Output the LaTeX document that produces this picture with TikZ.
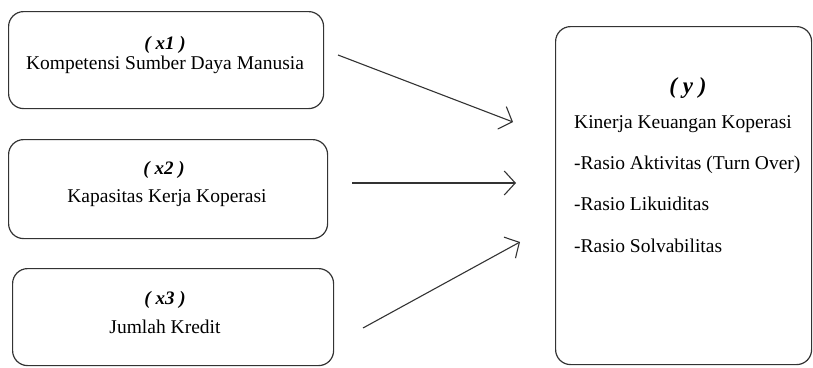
\documentclass[tikz,border=0pt]{standalone}
\usepackage{fontspec}
\setmainfont{Liberation Serif}
\usetikzlibrary{arrows.meta}
\begin{document}
\begin{tikzpicture}[x=1pt,y=-1pt,
  box/.style={draw=black!80, line width=1.2pt, rounded corners=15pt, anchor=north west, inner sep=0pt},
  lbl/.style={font=\fontsize{19}{23}\selectfont\bfseries\itshape, inner sep=0pt, anchor=base},
  ylbl/.style={font=\fontsize{23}{27}\selectfont\bfseries\itshape, inner sep=0pt, anchor=base},
  txt/.style={font=\fontsize{19.5}{24}\selectfont, inner sep=0pt, anchor=base},
  ltxt/.style={font=\fontsize{19.5}{24}\selectfont, inner sep=0pt, anchor=base west},
  arr/.style={draw=black!80, line width=1.1pt, -{Straight Barb[length=11pt,width=24pt]}}]
\useasboundingbox (0,0) rectangle (813,367);
\node[box, minimum width=315pt, minimum height=97pt] (b1) at (8,11) {};
\node[box, minimum width=319pt, minimum height=99pt] (b2) at (8,139) {};
\node[box, minimum width=321pt, minimum height=97pt] (b3) at (12,268) {};
\node[box, minimum width=256pt, minimum height=338pt] (by) at (555,26) {};

\node[lbl] (t1a) at (165,49) {( x1 )};
\node[txt] (t1b) at (165,69) {Kompetensi Sumber Daya Manusia};
\node[lbl] (t2a) at (164,174) {( x2 )};
\node[txt] (t2b) at (167,202) {Kapasitas Kerja Koperasi};
\node[lbl] (t3a) at (165,304) {( x3 )};
\node[txt] (t3b) at (165,333) {Jumlah Kredit};

\node[ylbl] (ya) at (688,93) {( y )};
\node[ltxt] (yb) at (574,128) {Kinerja Keuangan Koperasi};
\node[ltxt] (yc) at (574,169) {-Rasio Aktivitas (Turn Over)};
\node[ltxt] (yd) at (574,210) {-Rasio Likuiditas};
\node[ltxt] (ye) at (574,252) {-Rasio Solvabilitas};

\coordinate (s1) at (338,55);
\coordinate (e1) at (513,122);
\coordinate (s2) at (352,183);
\coordinate (e2) at (516,183);
\coordinate (s3) at (363,328);
\coordinate (e3) at (520,242);
\draw[arr] (s1) -- (e1);
\draw[arr] (s2) -- (e2);
\draw[arr] (s3) -- (e3);
\end{tikzpicture}
\end{document}
